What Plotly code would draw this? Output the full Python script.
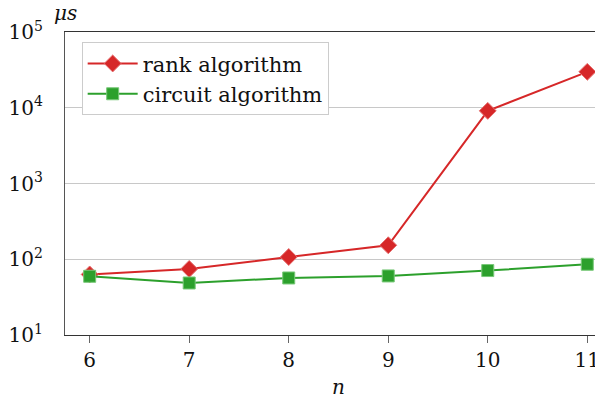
import plotly.graph_objects as go

n_values = [6, 7, 8, 9, 10, 11]
rank_us = [63, 74.5, 107, 153, 9100, 29800]
circuit_us = [59.6, 48.6, 56.6, 60.2, 70.9, 85.9]
y_tick_vals = [10, 100, 1000, 10000, 100000]
y_tick_text = ["10<sup>1</sup>", "10<sup>2</sup>", "10<sup>3</sup>", "10<sup>4</sup>", "10<sup>5</sup>"]

FONT = "DejaVu Serif"
RED = "#d62728"
GREEN = "#2ca02c"

fig = go.Figure()
fig.add_trace(go.Scatter(
    x=n_values, y=rank_us, name="rank algorithm", mode="lines+markers",
    line=dict(color=RED, width=2),
    marker=dict(symbol="diamond", size=13, color=RED,
                line=dict(color="rgba(230,110,110,1)", width=1)),
))
fig.add_trace(go.Scatter(
    x=n_values, y=circuit_us, name="circuit algorithm", mode="lines+markers",
    line=dict(color=GREEN, width=2),
    marker=dict(symbol="square", size=12, color=GREEN,
                line=dict(color="rgba(120,200,120,1)", width=1)),
))

# page body adds an 8px margin; figure is offset by it and overflows the view by 8px
fig.update_layout(
    width=603, height=396,
    margin=dict(l=57, r=8, t=24, b=69, pad=0, autoexpand=False),
    paper_bgcolor="white", plot_bgcolor="white",
    font=dict(family=FONT, size=20, color="#111"),
    showlegend=True,
    legend=dict(
        x=0.031, y=0.966, xanchor="left", yanchor="top",
        bgcolor="white", bordercolor="#cccccc", borderwidth=1,
        font=dict(family=FONT, size=21, color="#111"),
        itemwidth=50, tracegroupgap=4, entrywidth=200, entrywidthmode="pixels",
    ),
    xaxis=dict(
        range=[5.752, 11.158], tickmode="array", tickvals=n_values,
        ticks="outside", ticklen=7, tickwidth=1.2, tickcolor="#666",
        showline=True, linecolor="#333", linewidth=1.3, mirror=True,
        showgrid=False, zeroline=False, automargin=False,
        tickfont=dict(family=FONT, size=20, color="#111"),
    ),
    yaxis=dict(
        type="log", range=[1, 5],
        tickmode="array", tickvals=y_tick_vals, ticktext=y_tick_text,
        ticks="", showline=True, linecolor="#555", linewidth=1.3, mirror=False,
        showgrid=True, gridcolor="#c8c8c8", gridwidth=1, zeroline=False,
        automargin=False,
        tickfont=dict(family=FONT, size=20, color="#111"),
        ticklabelstandoff=17,
    ),
    annotations=[
        dict(text="<i>μs</i>", xref="paper", yref="paper", x=0.0, y=1.062,
             xanchor="center", yanchor="middle", showarrow=False,
             font=dict(family=FONT, size=20, color="#111")),
        dict(text="<i>n</i>", xref="paper", yref="paper", x=0.509, y=-0.173,
             xanchor="center", yanchor="middle", showarrow=False,
             font=dict(family=FONT, size=20, color="#111")),
    ],
)

fig.write_html("out.html")
